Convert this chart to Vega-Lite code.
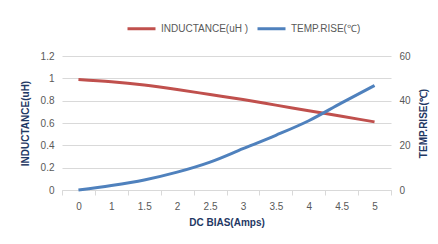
{
  "$schema": "https://vega.github.io/schema/vega-lite/v6.json",
  "width": 329,
  "height": 134,
  "autosize": {"type": "none"},
  "padding": {"left": 62, "top": 56, "right": 47, "bottom": 54},
  "background": "white",
  "config": {
    "view": {"stroke": null},
    "font": "Liberation Sans",
    "axis": {"labelColor": "#595959", "labelFontSize": 10, "titleColor": "#1F3864", "titleFontSize": 10, "titleFontWeight": "bold", "gridColor": "#D9D9D9", "domainColor": "#D9D9D9", "tickColor": "#D9D9D9"}
  },
  "data": {"values": [
    {"x": "0", "L": 0.99, "T": 0},
    {"x": "1", "L": 0.97, "T": 2},
    {"x": "1.5", "L": 0.94, "T": 4.5},
    {"x": "2", "L": 0.9, "T": 8},
    {"x": "2.5", "L": 0.855, "T": 12.5},
    {"x": "3", "L": 0.81, "T": 18.5},
    {"x": "3.5", "L": 0.76, "T": 24.5},
    {"x": "4", "L": 0.71, "T": 31},
    {"x": "4.5", "L": 0.66, "T": 39},
    {"x": "5", "L": 0.61, "T": 46.8}
  ]},
  "encoding": {
    "x": {"field": "x", "type": "ordinal", "sort": null,
      "scale": {"paddingInner": 0, "paddingOuter": 0},
      "axis": {"title": "DC BIAS(Amps)", "labelAngle": 0, "tickBand": "extent", "tickSize": 5, "labelPadding": 6, "titlePadding": 6, "grid": false}}
  },
  "layer": [
    {
      "mark": {"type": "line", "interpolate": "monotone", "strokeWidth": 3},
      "encoding": {
        "y": {"field": "L", "type": "quantitative", "scale": {"domain": [0, 1.2]},
          "axis": {"title": "INDUCTANCE(uH)", "values": [0, 0.2, 0.4, 0.6, 0.8, 1, 1.2], "format": "~g", "domain": false, "ticks": false, "labelPadding": 8, "titlePadding": 10}},
        "color": {"datum": "INDUCTANCE(uH )", "type": "nominal",
          "scale": {"domain": ["INDUCTANCE(uH )", "TEMP.RISE(℃)"], "range": ["#C0504D", "#4F81BD"]},
          "legend": {"title": null, "orient": "none", "direction": "horizontal", "legendX": 64, "legendY": -43, "symbolType": "stroke", "symbolSize": 784, "symbolStrokeWidth": 3, "labelFontSize": 10, "labelColor": "#595959", "columnPadding": 2, "labelOffset": 4}}
      }
    },
    {
      "mark": {"type": "line", "interpolate": "monotone", "strokeWidth": 3},
      "encoding": {
        "y": {"field": "T", "type": "quantitative", "scale": {"domain": [0, 60]},
          "axis": {"orient": "right", "title": "TEMP.RISE(℃)", "titleAngle": 270, "titleBaseline": "top", "values": [0, 20, 40, 60], "grid": false, "domain": false, "ticks": false, "labelPadding": 8, "titlePadding": 8}},
        "color": {"datum": "TEMP.RISE(℃)", "type": "nominal"}
      }
    }
  ],
  "resolve": {"scale": {"y": "independent"}}
}
